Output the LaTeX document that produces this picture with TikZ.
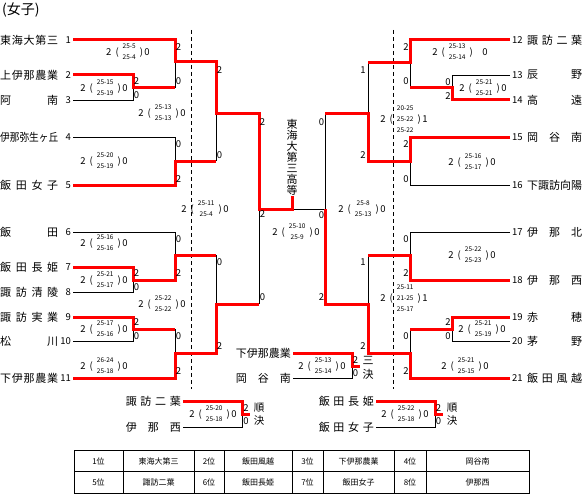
\documentclass[tikz,border=0pt]{standalone}
\usepackage{fontspec}
\setmainfont{Noto Sans CJK JP}
\usepackage{graphicx}
\usetikzlibrary{positioning}
\definecolor{win-red}{HTML}{FF0000}

\newcommand{\jname}[2][58pt]{\makebox[#1][s]{\spaceskip=0pt plus 1fil\relax #2}}
\newcommand{\mscore}[3]{#1\hspace{4pt}(\hspace{4pt}\raisebox{1.7pt}{\fontsize{6.5}{11}\selectfont\begin{tabular}{@{}c@{}}#2\end{tabular}}\hspace{4pt})\hspace{1.5pt}#3}

\begin{document}
\begin{tikzpicture}[x=1pt, y=-1pt,
        redline/.style={draw=win-red, line width=3pt},
        blackline/.style={draw=black, line width=0.8pt},
        teamname/.style={anchor=west, inner sep=0pt, font=\fontsize{11}{12}\selectfont},
        teamno/.style={inner sep=2pt, font=\fontsize{9.5}{10}\selectfont},
        pts/.style={inner sep=0pt, font=\fontsize{9.5}{10}\selectfont},
        result/.style={inner sep=0pt, font=\fontsize{9.5}{11}\selectfont},
        champ/.style={align=center, inner sep=0pt, font=\fontsize{11}{11}\selectfont},
        cell/.style={inner sep=0pt, font=\fontsize{8}{9}\selectfont}]
      \path[fill=white, use as bounding box] (0,0) rectangle (584,495);

      % title
      \node[anchor=west, inner sep=0pt, font=\fontsize{14}{14}\selectfont] (title) at (2,10) {(女子)};

      % dashed guides
      \draw[dash pattern=on 4pt off 3pt, line width=0.8pt] (191,30) -- (191,389);
      \draw[dash pattern=on 4pt off 3pt, line width=0.8pt] (393,30) -- (393,389);

      % teams, left half
      \foreach \y/\no/\nm in {40/1/{東 海 大 第 三}, 75/2/{上 伊 那 農 業}, 100/3/{阿 南},
          137/4/{\scalebox{0.88}[1]{伊那弥生ヶ丘}}, 185/5/{飯 田 女 子}, 232/6/{飯 田},
          267/7/{飯 田 長 姫}, 292/8/{諏 訪 清 陵}, 317/9/{諏 訪 実 業}, 341/10/{松 川},
          378/11/{下 伊 那 農 業}}
      {
        \node[teamname] (n\no) at (0,\y) {\jname{\nm}};
        \node[teamno, anchor=east] (t\no) at (73,\y) {\no};
      }
      % teams, right half
      \foreach \y/\no/\nm in {40/12/{諏 訪 二 葉}, 75/13/{辰 野}, 100/14/{高 遠},
          137/15/{岡 谷 南}, 185/16/{下 諏 訪 向 陽}, 232/17/{伊 那 北}, 280/18/{伊 那 西},
          317/19/{赤 穂}, 341/20/{茅 野}, 378/21/{飯 田 風 越}}
      {
        \node[teamname] (n\no) at (527,\y) {\jname[55pt]{\nm}};
        \node[teamno, anchor=west] (t\no) at (510,\y) {\no};
      }

      % bracket joints
      \coordinate (q1) at (175,62);
      \coordinate (q23) at (133,88);
      \coordinate (q45) at (175,161);
      \coordinate (q678) at (175,255);
      \coordinate (q78) at (133,280);
      \coordinate (q910) at (133,329);
      \coordinate (q11) at (175,353);
      \coordinate (r1) at (216,113);
      \coordinate (r2) at (216,304);
      \coordinate (sL) at (259,209);
      \coordinate (fin) at (292,209);
      \coordinate (sR) at (325,209);
      \coordinate (v1) at (368,113);
      \coordinate (v2) at (368,304);
      \coordinate (u12) at (410,63);
      \coordinate (u1314) at (452,88);
      \coordinate (u1516) at (410,161);
      \coordinate (u1718) at (410,255);
      \coordinate (u1920) at (452,329);
      \coordinate (u21) at (410,353);

      \node[champ, above=13pt of fin] (ch) {東\\海\\大\\第\\三\\高\\等};

      % losing sides
      \draw[blackline] (t3.east) -| (q23);
      \draw[blackline] (q1) -- (q1 |- q23);
      \draw[blackline] (t4.east) -| (q45);
      \draw[blackline] (r1) -- (r1 |- q45);
      \draw[blackline] (t6.east) -| (q678);
      \draw[blackline] (t8.east) -| (q78);
      \draw[blackline] (t10.east) -| (q910);
      \draw[blackline] (q11) -- (q11 |- q910);
      \draw[blackline] (r2 |- q678) -- (r2);
      \draw[blackline] (sL) -- (sL |- r2);
      \draw[blackline] (fin) -- (sR);
      \draw[blackline] (u12) -- (u12 |- u1314);
      \draw[blackline] (t13.west) -| (u1314);
      \draw[blackline] (v1 |- u12) -- (v1);
      \draw[blackline] (t16.west) -| (u1516);
      \draw[blackline] (t17.west) -| (u1718);
      \draw[blackline] (v2 |- u1718) -- (v2);
      \draw[blackline] (t20.west) -| (u1920);
      \draw[blackline] (u21) -- (u21 |- u1920);
      \draw[blackline] (sR |- v1) -- (sR);

      % winning sides
      \draw[redline] (t1.east) -| (q1) -| (r1) -| (sL) -- (fin) -- (ch.south);
      \draw[redline] (t2.east) -| (q23) -- (q23 -| q1);
      \draw[redline] (t5.east) -| (q45) -- (q45 -| r1);
      \draw[redline] (t7.east) -| (q78) -| (q678) -- (q678 -| r2);
      \draw[redline] (t9.east) -| (q910) -- (q910 -| q11);
      \draw[redline] (t11.east) -| (q11) -| (r2) -- (r2 -| sL);
      \draw[redline] (t12.west) -| (u12) -- (u12 -| v1);
      \draw[redline] (t14.west) -| (u1314) -- (u1314 -| u12);
      \draw[redline] (t15.west) -| (u1516) -| (v1) -- (v1 -| sR);
      \draw[redline] (t18.west) -| (u1718) -- (u1718 -| v2);
      \draw[redline] (t19.west) -| (u1920) -- (u1920 -| u21);
      \draw[redline] (t21.west) -| (u21) -| (v2) -| (sR);

      % placement matches
      \node[teamname, anchor=east, inner xsep=2pt] (c1) at (293,353) {\jname[55pt]{下 伊 那 農 業}};
      \node[teamname, anchor=east, inner xsep=2pt] (c2) at (293,378) {\jname[55pt]{岡 谷 南}};
      \coordinate (c0) at (352,366);
      \coordinate (c0e) at (360,366);
      \draw[blackline] (c2.east) -| (c0);
      \draw[redline] (c1.east) -| (c0) -- (c0e);
      \node[pts, font=\fontsize{11}{12}\selectfont] (k3a) at (368,360) {三};
      \node[pts, font=\fontsize{11}{12}\selectfont] (k3b) at (368,374) {決};

      \node[teamname, anchor=east, inner xsep=2pt] (e1) at (183,401) {\jname[55pt]{諏 訪 二 葉}};
      \node[teamname, anchor=east, inner xsep=2pt] (e2) at (183,427) {\jname[55pt]{伊 那 西}};
      \coordinate (e0) at (242,414);
      \coordinate (e0e) at (250,414);
      \draw[blackline] (e2.east) -| (e0);
      \draw[redline] (e1.east) -| (e0) -- (e0e);
      \node[pts, font=\fontsize{10.5}{11}\selectfont] (k5a) at (259,408) {順};
      \node[pts, font=\fontsize{10.5}{11}\selectfont] (k5b) at (259,421) {決};

      \node[teamname, anchor=east, inner xsep=2pt] (g1) at (376,401) {\jname[55pt]{飯 田 長 姫}};
      \node[teamname, anchor=east, inner xsep=2pt] (g2) at (376,427) {\jname[55pt]{飯 田 女 子}};
      \coordinate (g0) at (435,414);
      \coordinate (g0e) at (443,414);
      \draw[blackline] (g2.east) -| (g0);
      \draw[redline] (g1.east) -| (g0) -- (g0e);
      \node[pts, font=\fontsize{10.5}{11}\selectfont] (k7a) at (452,408) {順};
      \node[pts, font=\fontsize{10.5}{11}\selectfont] (k7b) at (452,421) {決};

      % set points beside the brackets
      \foreach \x/\y/\v [count=\i] in {178.5/47/2, 178.5/81/0, 136.5/81/2, 136.5/95/0,
          178.5/144/0, 178.5/179/2, 178.5/239/0, 178.5/273/2, 136.5/273/2, 136.5/287/0,
          136.5/322/2, 136.5/336/0, 178.5/336/0, 178.5/371/2, 219.5/70/2, 219.5/155/0,
          219.5/262/0, 219.5/346/2, 262.5/122/2, 262.5/297/0, 262.5/214/2, 321.5/215/0,
          321.5/122/0, 321.5/297/2, 363/70/1, 363/155/2, 363/262/1, 363/346/2,
          406/47/2, 406/81/0, 448/82/0, 448/96/2, 406/144/2, 406/179/0, 406/239/0,
          406/273/2, 448/322/2, 448/336/0, 406/336/0, 406/371/2, 355.5/360/2,
          355.5/373/0, 246/408/2, 246/421/0, 438.5/408/2, 438.5/421/0}
        \node[pts] (d\i) at (\x,\y) {\v};

      % match results
      \node[result] (m1) at (128,52) {\mscore{2}{25-5\\25-4}{0}};
      \node[result] (m23) at (104,88) {\mscore{2}{25-15\\25-19}{0}};
      \node[result] (m45) at (104,161) {\mscore{2}{25-20\\25-19}{0}};
      \node[result] (m6) at (104,243) {\mscore{2}{25-16\\25-16}{0}};
      \node[result] (m78) at (104,280) {\mscore{2}{25-21\\25-17}{0}};
      \node[result] (m910) at (104,329) {\mscore{2}{25-17\\25-16}{0}};
      \node[result] (m11) at (104,366) {\mscore{2}{26-24\\25-18}{0}};
      \node[result] (mr1) at (162,113) {\mscore{2}{25-13\\25-13}{0}};
      \node[result] (mr2) at (162,304) {\mscore{2}{25-22\\25-22}{0}};
      \node[result] (msL) at (205,209) {\mscore{2}{25-11\\25-4}{0}};
      \node[result] (mfin) at (296,232) {\mscore{2}{25-10\\25-9}{0}};
      \node[result] (msR) at (362,209) {\mscore{2}{25-8\\25-13}{0}};
      \node[result] (mv1) at (404,119) {\mscore{2}{20-25\\25-22\\25-22}{1}};
      \node[result] (mv2) at (404,298) {\mscore{2}{25-11\\21-25\\25-17}{1}};
      \node[result] (m12) at (460,52) {\mscore{2}{25-13\\25-14}{\hspace{8pt}0}};
      \node[result] (m1314) at (483,88) {\mscore{2}{25-21\\25-21}{0}};
      \node[result] (m1516) at (472,162) {\mscore{2}{25-16\\25-17}{0}};
      \node[result] (m1718) at (472,255) {\mscore{2}{25-22\\25-23}{0}};
      \node[result] (m1920) at (482,329) {\mscore{2}{25-21\\25-19}{0}};
      \node[result] (m21) at (465,366) {\mscore{2}{25-21\\25-15}{0}};
      \node[result] (m3rd) at (322,366) {\mscore{2}{25-13\\25-14}{0}};
      \node[result] (m5th) at (213,414) {\mscore{2}{25-20\\25-18}{0}};
      \node[result] (m7th) at (405,414) {\mscore{2}{25-22\\25-18}{0}};

      % final standings
      \draw[blackline] (74,450) rectangle (529,493);
      \draw[blackline] (74,471) -- (529,471);
      \foreach \cx in {123,194,224,292,323,394,426}
        \draw[blackline] (\cx,450) -- (\cx,493);
      \foreach \cx/\ta/\tb [count=\i] in {98.5/1位/5位, 158.5/東海大第三/諏訪二葉,
          209/2位/6位, 258/飯田風越/飯田長姫, 307.5/3位/7位, 358.5/下伊那農業/飯田女子,
          410/4位/8位, 477.5/岡谷南/伊那西}
      {
        \node[cell] (ra\i) at (\cx,461) {\ta};
        \node[cell] (rb\i) at (\cx,482) {\tb};
      }
\end{tikzpicture}
\end{document}
